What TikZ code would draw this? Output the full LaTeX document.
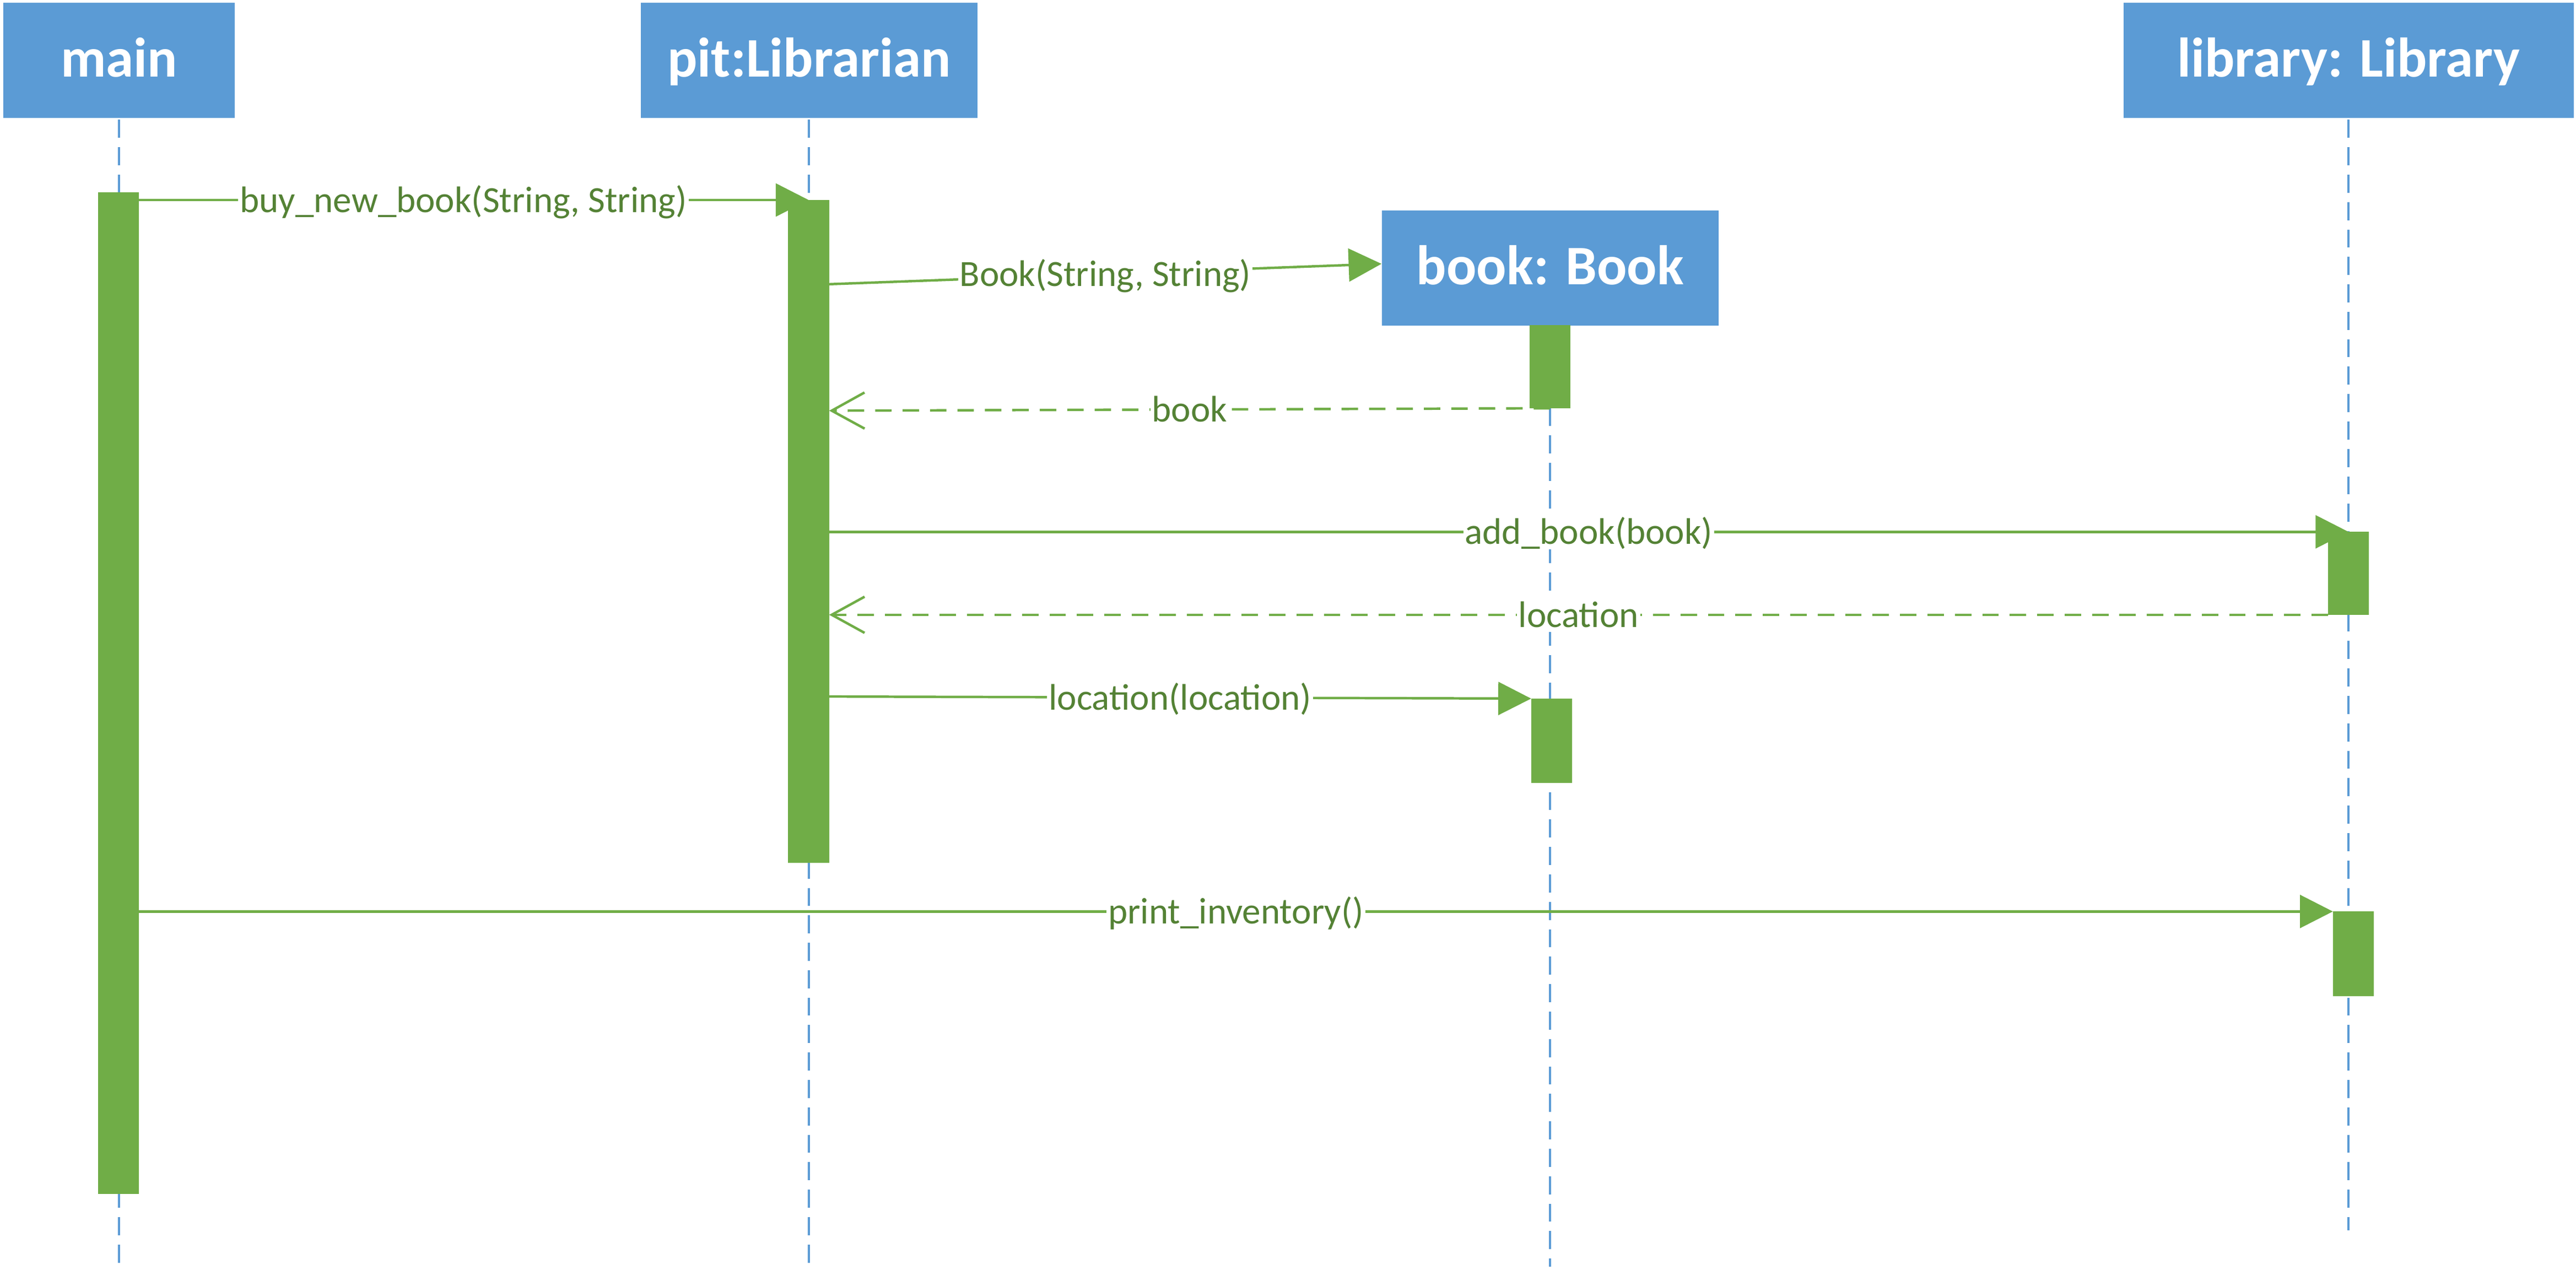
\documentclass[tikz,border=0pt]{standalone}
\usepackage{fontspec}
\setmainfont{Carlito}
\usetikzlibrary{arrows.meta}
\definecolor{boxblue}{HTML}{5B9BD5}
\definecolor{actgreen}{HTML}{70AD47}
\definecolor{lblgreen}{HTML}{548235}
\pgfdeclarelayer{back}
\pgfsetlayers{back,main}
\begin{document}
\begin{tikzpicture}[x=1pt, y=-1pt,
    head/.style={rectangle, fill=boxblue, text=white, minimum height=70pt,
        font=\fontsize{34}{40}\selectfont\bfseries, text height=24pt, text depth=4pt},
    life/.style={draw=boxblue, line width=1.3pt, dash pattern=on 11pt off 5.7pt},
    act/.style={rectangle, fill=actgreen, draw=actgreen, line width=0.5pt,
        minimum width=24.5pt, inner sep=0pt},
    msg/.style={draw=actgreen, line width=1.5pt, -{Triangle[length=20pt,width=20pt]}},
    ret/.style={msg, dash pattern=on 10pt off 6.7pt, -{Straight Barb[length=20pt,width=22pt]}},
    lbl/.style={midway, fill=white, text=lblgreen, inner sep=1pt,
        font=\fontsize{22.5}{26}\selectfont, text height=17pt, text depth=2pt}
]
\useasboundingbox (0,0) rectangle (1568,773);

% Heads
\node[head, minimum width=141pt] (main) at (72.5,36.7) {main};
\node[head, minimum width=205pt] (pit) at (492.5,36.7) {pit:Librarian};
\node[head, minimum width=274pt] (lib) at (1429.6,36.7) {library: Library};
\node[head, minimum width=205pt] (book) at (943.6,163.1) {book: Book};

% Activations
\node[act, minimum height=609pt] (mainact) at (72.1,421.9) {};
\node[act, minimum height=403pt] (pitact) at (492.2,323.5) {};
\node[act, minimum height=50pt] (bookact1) at (943.5,223.3) {};
\node[act, minimum height=50pt] (libact1) at (1429.5,349) {};
\node[act, minimum height=51pt] (bookact2) at (944.5,451) {};
\node[act, minimum height=51pt] (libact2) at (1432.5,580.6) {};

\begin{pgfonlayer}{back}
% Lifelines
\draw[life] ([yshift=-1pt]main.south) -- (72.5,771);
\draw[life] ([yshift=-1pt]pit.south) -- (492.5,771);
\draw[life] (book.south) -- (943.6,771);
\draw[life] ([yshift=-1pt]lib.south) -- (1429.6,749);

% Messages
\draw[msg] (mainact.center |- pitact.north) -- (pitact.north)
    node[lbl] {buy\_new\_book(String, String)};
\draw[msg] (pitact.east |- 0,173) -- ([yshift=2.5pt]book.west)
    node[lbl] {Book(String, String)};
\draw[ret] (bookact1.south) -- (pitact.east |- 0,250)
    node[lbl] {book};
\draw[msg] (pitact.east |- libact1.north) -- (libact1.north)
    node[lbl] {add\_book(book)};
\draw[ret] (libact1.south west) -- (pitact.east |- libact1.south)
    node[lbl] {location};
\draw[msg] (pitact.east |- 0,424) -- (bookact2.north west)
    node[lbl] {location(location)};
\draw[msg] (mainact.east |- libact2.north) -- (libact2.north west)
    node[lbl] {print\_inventory()};
\end{pgfonlayer}

\end{tikzpicture}
\end{document}
